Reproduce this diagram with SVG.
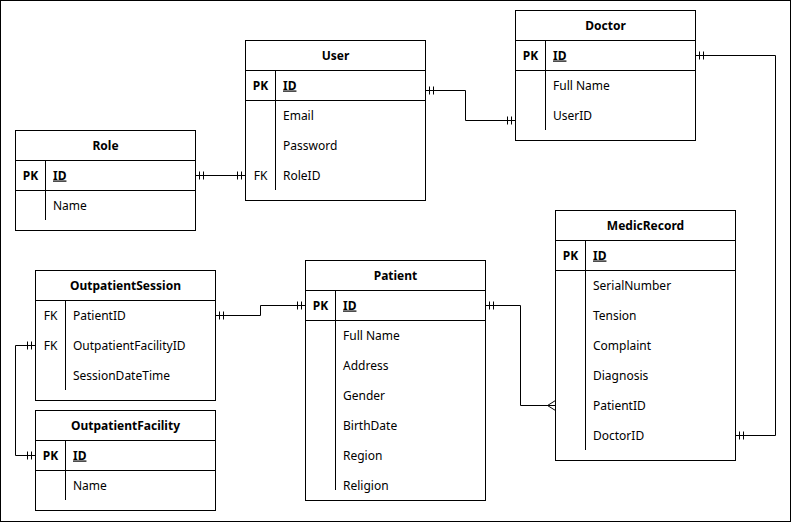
<svg xmlns="http://www.w3.org/2000/svg" width="791" height="522" viewBox="0 0 791 522">
<style>
.box{fill:#fff;stroke:#000;stroke-width:1}
.ln{stroke:#000;stroke-width:1;fill:none}
text{font-family:"Noto Sans","Open Sans","DejaVu Sans",sans-serif;font-size:12px;fill:#000}
.t{font-weight:bold;text-anchor:middle}
.k{font-weight:bold;text-anchor:middle}
.kf{text-anchor:middle}
.pk{font-weight:bold;text-decoration:underline}
.c{stroke:#000;stroke-width:1;fill:none}
</style>
<defs>
<marker id="one" markerWidth="12" markerHeight="10" refX="11" refY="5" orient="auto-start-reverse" markerUnits="userSpaceOnUse">
<path d="M7,1V9M3,1V9" stroke="#000" stroke-width="1" fill="none"/>
</marker>
<marker id="many" markerWidth="12" markerHeight="12" refX="10" refY="6" orient="auto" markerUnits="userSpaceOnUse">
<path d="M10,1L2,6L10,11" stroke="#000" stroke-width="1" fill="none"/>
</marker>
</defs>
<rect x="0.5" y="0.5" width="790" height="521" fill="#fff" stroke="#000"/>

<g id="connectors">
<path class="c" d="M195.5,175.5H245.5" marker-start="url(#one)" marker-end="url(#one)"/>
<path class="c" d="M425.5,90.5H465.5V120.5H515.5" marker-start="url(#one)" marker-end="url(#one)"/>
<path class="c" d="M695.5,55.5H775.5V435.5H735.5" marker-start="url(#one)" marker-end="url(#one)"/>
<path class="c" d="M485.5,305.5H520.5V405.5H555.5" marker-start="url(#one)" marker-end="url(#many)"/>
<path class="c" d="M215.5,315.5H260.5V305.5H305.5" marker-start="url(#one)" marker-end="url(#one)"/>
<path class="c" d="M35.5,345.5H15.5V455.5H35.5" marker-start="url(#one)" marker-end="url(#one)"/>
</g>

<g id="role">
<rect class="box" x="15.5" y="130.5" width="180" height="100"/>
<path class="ln" d="M15.5,160.5H195.5M15.5,190.5H195.5M45.5,160.5V220"/>
<text class="t" x="105.5" y="149.5">Role</text>
<text class="k" x="30.5" y="179.5">PK</text>
<text class="pk" x="53" y="179.5">ID</text>
<text x="53" y="209.5">Name</text>
</g>

<g id="user">
<rect class="box" x="245.5" y="40.5" width="180" height="160"/>
<path class="ln" d="M245.5,70.5H425.5M245.5,100.5H425.5M275.5,70.5V190"/>
<text class="t" x="335.5" y="59.5">User</text>
<text class="k" x="260.5" y="89.5">PK</text>
<text class="pk" x="283" y="89.5">ID</text>
<text x="283" y="119.5">Email</text>
<text x="283" y="149.5">Password</text>
<text class="kf" x="260.5" y="179.5">FK</text>
<text x="283" y="179.5">RoleID</text>
</g>

<g id="doctor">
<rect class="box" x="515.5" y="10.5" width="180" height="130"/>
<path class="ln" d="M515.5,40.5H695.5M515.5,70.5H695.5M545.5,40.5V130"/>
<text class="t" x="605.5" y="29.5">Doctor</text>
<text class="k" x="530.5" y="59.5">PK</text>
<text class="pk" x="553" y="59.5">ID</text>
<text x="553" y="89.5">Full Name</text>
<text x="553" y="119.5">UserID</text>
</g>

<g id="medicrecord">
<rect class="box" x="555.5" y="210.5" width="180" height="250"/>
<path class="ln" d="M555.5,240.5H735.5M555.5,270.5H735.5M585.5,240.5V450"/>
<text class="t" x="645.5" y="229.5">MedicRecord</text>
<text class="k" x="570.5" y="259.5">PK</text>
<text class="pk" x="593" y="259.5">ID</text>
<text x="593" y="289.5">SerialNumber</text>
<text x="593" y="319.5">Tension</text>
<text x="593" y="349.5">Complaint</text>
<text x="593" y="379.5">Diagnosis</text>
<text x="593" y="409.5">PatientID</text>
<text x="593" y="439.5">DoctorID</text>
</g>

<g id="patient">
<rect class="box" x="305.5" y="260.5" width="180" height="240"/>
<path class="ln" d="M305.5,290.5H485.5M305.5,320.5H485.5M335.5,290.5V490"/>
<text class="t" x="395.5" y="279.5">Patient</text>
<text class="k" x="320.5" y="309.5">PK</text>
<text class="pk" x="343" y="309.5">ID</text>
<text x="343" y="339.5">Full Name</text>
<text x="343" y="369.5">Address</text>
<text x="343" y="399.5">Gender</text>
<text x="343" y="429.5">BirthDate</text>
<text x="343" y="459.5">Region</text>
<text x="343" y="489.5">Religion</text>
</g>

<g id="outpatientsession">
<rect class="box" x="35.5" y="270.5" width="180" height="130"/>
<path class="ln" d="M35.5,300.5H215.5M65.5,300.5V390"/>
<text class="t" x="125.5" y="289.5">OutpatientSession</text>
<text class="kf" x="50.5" y="319.5">FK</text>
<text x="73" y="319.5">PatientID</text>
<text class="kf" x="50.5" y="349.5">FK</text>
<text x="73" y="349.5">OutpatientFacilityID</text>
<text x="73" y="379.5">SessionDateTime</text>
</g>

<g id="outpatientfacility">
<rect class="box" x="35.5" y="410.5" width="180" height="100"/>
<path class="ln" d="M35.5,440.5H215.5M35.5,470.5H215.5M65.5,440.5V500"/>
<text class="t" x="125.5" y="429.5">OutpatientFacility</text>
<text class="k" x="50.5" y="459.5">PK</text>
<text class="pk" x="73" y="459.5">ID</text>
<text x="73" y="489.5">Name</text>
</g>
</svg>
